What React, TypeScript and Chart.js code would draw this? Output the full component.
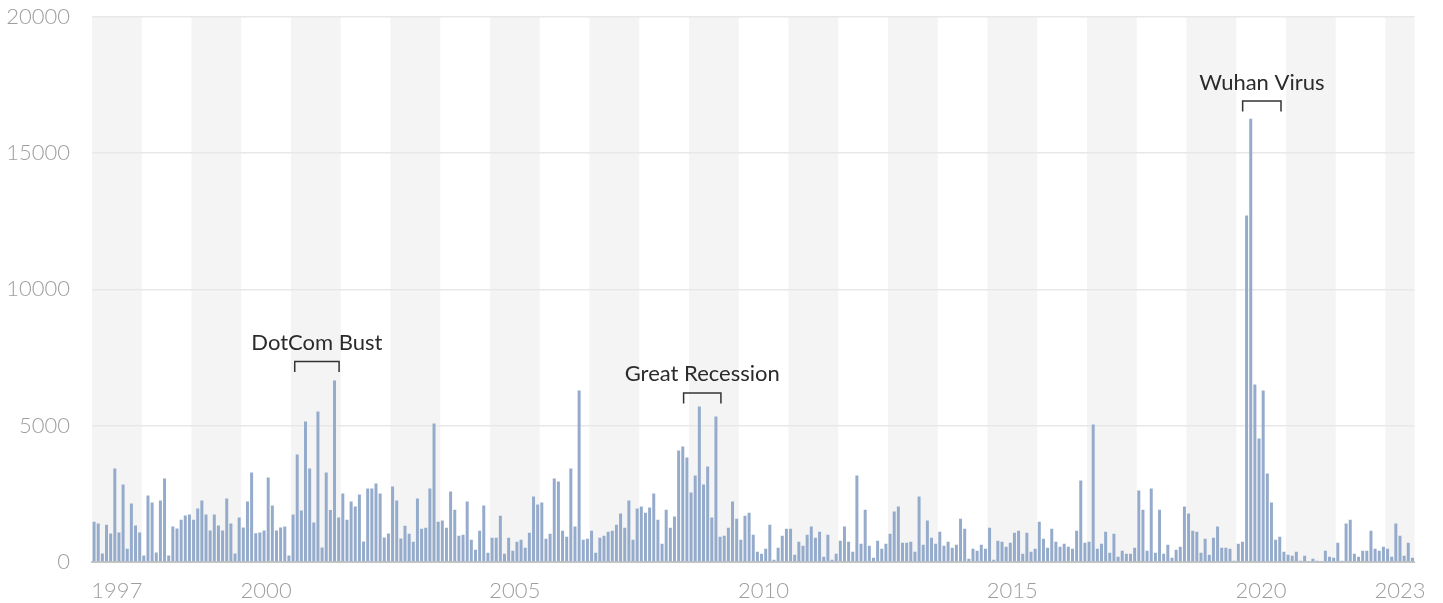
import React, { useEffect, useRef } from 'react';
import { Chart, registerables } from 'chart.js';

Chart.register(...registerables);

const START_YEAR = 1997;

// Monthly values, Jan 1997 .. Jul 2023 (one row per year)
const filings: number[] = [
  1480, 1410, 310, 1370, 1045, 3430, 1080, 2840, 490, 2145, 1335, 1080,
  235, 2440, 2180, 345, 2255, 3060, 235, 1300, 1225, 1553, 1705, 1737,
  1553, 1960, 2255, 1737, 1155, 1737, 1337, 1155, 2327, 1410, 308, 1632,
  1265, 2215, 3285, 1050, 1080, 1155, 3100, 2070, 1155, 1265, 1298, 236,
  1737, 3938, 1888, 5150, 3428, 1450, 5518, 530, 3285, 1905, 6658, 1632,
  2510, 1553, 2215, 2032, 2471, 754, 2693, 2693, 2878, 2510, 898, 1042,
  2766, 2255, 860, 1333, 1040, 746, 2324, 1223, 1260, 2691, 5076, 1480,
  1517, 1260, 2581, 1920, 966, 1003, 2214, 820, 453, 1150, 2067, 342,
  893, 893, 1700, 306, 893, 416, 746, 820, 526, 1076, 2398, 2104,
  2177, 856, 1040, 3058, 2948, 1150, 930, 3425, 1297, 6287, 820, 856,
  1150, 342, 893, 966, 1113, 1150, 1370, 1774, 1260, 2251, 820, 1957,
  2031, 1810, 1994, 2508, 1553, 673, 1920, 1260, 1664, 4086, 4232, 3829,
  2544, 3168, 5700, 2838, 3498, 1627, 5333, 930, 966, 1260, 2214, 1590,
  820, 1700, 1810, 1003, 379, 306, 489, 1370, 86, 526, 966, 1223,
  1223, 269, 746, 599, 1003, 1297, 893, 1113, 196, 1003, 86, 306,
  783, 1297, 746, 379, 3168, 673, 1920, 599, 159, 783, 489, 673,
  1040, 1847, 2031, 709, 709, 746, 379, 2398, 636, 1517, 893, 673,
  1113, 599, 746, 526, 636, 1590, 1223, 122, 489, 416, 636, 489,
  1260, 86, 783, 746, 563, 709, 1076, 1150, 306, 1076, 379, 489,
  1480, 856, 526, 1223, 746, 563, 673, 563, 489, 1150, 2985, 709,
  746, 5040, 489, 673, 1113, 342, 1040, 196, 416, 306, 306, 526,
  2618, 1920, 416, 2691, 342, 1920, 306, 636, 159, 453, 563, 2031,
  1774, 1150, 1113, 342, 856, 269, 893, 1297, 526, 526, 489, 49,
  673, 746, 12700, 16250, 6508, 4526, 6287, 3242, 2177, 820, 930, 379,
  269, 232, 379, 49, 232, 20, 122, 49, 20, 416, 196, 159,
  709, 49, 1407, 1553, 306, 196, 416, 416, 1150, 489, 416, 563,
  489, 196, 1407, 966, 232, 709, 159,
];

const months: string[] = filings.map(
  (_, i) => `${START_YEAR + Math.floor(i / 12)}-${String((i % 12) + 1).padStart(2, '0')}`
);

const yearTickLabels = ['1997', '2000', '2005', '2010', '2015', '2020', '2023'];
const yMax = 20000;
const yStep = 5000;

const annotationLabels = ['DotCom Bust', 'Great Recession', 'Wuhan Virus'];
const annotationStart = [48.4, 142.2, 277.05];
const annotationEnd = [59.1, 151.2, 286.3];
const annotationLevel = [7350, 6200, 16900];

const FONT = 'Lato, "Open Sans", sans-serif';

function monthPixel(x: any, idx: number) {
  const i = Math.floor(idx);
  const w = x.getPixelForValue(1) - x.getPixelForValue(0);
  return x.getPixelForValue(i) + (idx - i) * w;
}

const decorPlugin = {
  id: 'decor',
  beforeDraw(chart: any) {
    const { ctx, chartArea, scales } = chart;
    const x = scales.x;
    const n = months.length;
    const w = x.getPixelForValue(1) - x.getPixelForValue(0);
    ctx.save();
    ctx.fillStyle = '#f4f4f4';
    for (let i = 0; i < n; i += 12) {
      const year = START_YEAR + i / 12;
      if (year % 2 === 1) {
        const l = x.getPixelForValue(i) - w / 2;
        const last = Math.min(i + 11, n - 1);
        const r = Math.min(x.getPixelForValue(last) + w / 2, chartArea.right);
        ctx.fillRect(l, chartArea.top, r - l, chartArea.bottom - chartArea.top);
      }
    }
    ctx.restore();
  },
  afterDraw(chart: any) {
    const { ctx, chartArea, scales } = chart;
    const x = scales.x;
    const y = scales.y;
    const n = months.length;
    const w = x.getPixelForValue(1) - x.getPixelForValue(0);
    ctx.save();
    // year labels
    ctx.font = `300 22px ${FONT}`;
    ctx.fillStyle = '#9e9e9e';
    ctx.textAlign = 'center';
    ctx.textBaseline = 'alphabetic';
    yearTickLabels.forEach((lab) => {
      const first = (parseInt(lab, 10) - START_YEAR) * 12;
      const last = Math.min(first + 11, n - 1);
      const l = x.getPixelForValue(first) - w / 2;
      const r = Math.min(x.getPixelForValue(last) + w / 2, chartArea.right);
      ctx.fillText(lab, (l + r) / 2, chartArea.bottom + 36);
    });
    // annotations
    ctx.strokeStyle = '#333333';
    ctx.lineWidth = 1.5;
    ctx.fillStyle = '#2b2b2b';
    ctx.font = `400 22px ${FONT}`;
    annotationLabels.forEach((lab, k) => {
      const xs = monthPixel(x, annotationStart[k]);
      const xe = monthPixel(x, annotationEnd[k]);
      const yy = y.getPixelForValue(annotationLevel[k]);
      ctx.beginPath();
      ctx.moveTo(xs, yy + 10.5);
      ctx.lineTo(xs, yy);
      ctx.lineTo(xe, yy);
      ctx.lineTo(xe, yy + 10.5);
      ctx.stroke();
      ctx.fillText(lab, (xs + xe) / 2, yy - 11.5);
    });
    ctx.restore();
  },
};

export default function App() {
  const ref = useRef<HTMLCanvasElement | null>(null);
  useEffect(() => {
    if (!ref.current) return;
    const chart = new Chart(ref.current, {
      type: 'bar',
      data: {
        labels: months,
        datasets: [
          {
            data: filings,
            backgroundColor: '#95abcb',
            barPercentage: 0.72,
            categoryPercentage: 1,
          },
        ],
      },
      options: {
        animation: false,
        responsive: true,
        maintainAspectRatio: false,
        layout: { padding: { top: 16.5, right: 28.5, left: 0, bottom: 0 } },
        plugins: { legend: { display: false }, tooltip: { enabled: false } },
        scales: {
          x: {
            grid: { display: false },
            border: { display: true, color: '#c4c4c4', width: 2 },
            ticks: { display: false },
            afterFit: (s: any) => {
              s.height = 41;
            },
          },
          y: {
            min: 0,
            max: yMax,
            ticks: {
              stepSize: yStep,
              color: '#9e9e9e',
              padding: 0,
              font: { family: FONT, size: 22, weight: '300' as any },
              callback: (v: any) => String(v),
            },
            grid: {
              color: '#e8e8e8',
              lineWidth: 1.5,
              drawTicks: true,
              tickLength: 22,
              tickColor: 'rgba(0,0,0,0)',
            },
            border: { display: false },
            afterFit: (s: any) => {
              s.width = 92;
            },
          },
        },
      },
      plugins: [decorPlugin],
    });
    return () => chart.destroy();
  }, []);
  return (
    <div style={{ position: 'fixed', left: 0, top: 0, width: 1443, height: 603 }}>
      <canvas ref={ref} />
    </div>
  );
}
